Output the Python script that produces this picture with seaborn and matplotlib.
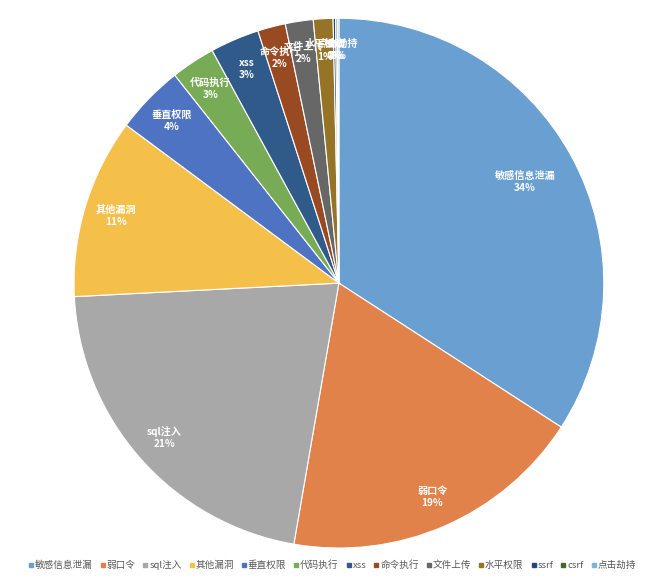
import numpy as np
import pandas as pd
import matplotlib
matplotlib.use('Agg')
import matplotlib.pyplot as plt
import seaborn as sns
from matplotlib.lines import Line2D

# data (percent of findings)
names = ['敏感信息泄漏', '弱口令', 'sql注入', '其他漏洞', '垂直权限', '代码执行', 'xss',
         '命令执行', '文件上传', '水平权限', 'ssrf', 'csrf', '点击劫持']
shares = [34.2, 18.6, 21.5, 11.0, 4.2, 2.7, 3.0, 1.7, 1.7, 1.2, 0.15, 0.1, 0.1]
colors = ['#6a9fd2', '#e0824a', '#a8a8a8', '#f5c04a', '#4f73c3', '#77ab55', '#2f5a8a',
          '#9a4a22', '#676767', '#957428', '#27457a', '#46692e', '#82b1dc']

df = pd.DataFrame({'name': names, 'share': shares, 'color': colors})

sns.set_theme(style='white')
plt.rcParams['font.family'] = ['Noto Sans CJK SC', 'DejaVu Sans']

fig = plt.figure(figsize=(6.64, 5.79), dpi=100)
ax = fig.add_axes([0.1114, 0.0535, 0.798, 0.915])

wedges, _ = ax.pie(df['share'], colors=df['color'], startangle=90, counterclock=False,
                   wedgeprops=dict(edgecolor='white', linewidth=0.8))
ax.set_xlim(-1, 1)
ax.set_ylim(-1, 1)
ax.set_aspect('equal')
ax.axis('off')

## labels: name + rounded percent, white bold near the outer edge
total = df['share'].sum()
for w, (_, row) in zip(wedges, df.iterrows()):
    mid = np.deg2rad((w.theta1 + w.theta2) / 2)
    r = 0.8 if row['share'] > 30 else 0.88
    pct = int(round(row['share'] / total * 100))
    ax.text(r * np.cos(mid), r * np.sin(mid), f"{row['name']}\n{pct}%",
            ha='center', va='center', color='white', fontsize=7.3, fontweight='bold',
            linespacing=1.3)

handles = [Line2D([0], [0], marker='s', linestyle='', markersize=3.5,
                  markerfacecolor=c, markeredgecolor=c) for c in df['color']]
fig.legend(handles, df['name'], loc='lower center', bbox_to_anchor=(0.5, 0.0),
           ncol=13, frameon=False, fontsize=6.9, handletextpad=0.1, handlelength=0.6,
           columnspacing=0.75, labelcolor='#595959')

plt.savefig('out.png', dpi=100)
